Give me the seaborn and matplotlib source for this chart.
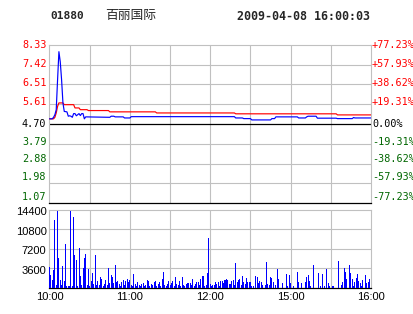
import matplotlib
matplotlib.use("Agg")
import matplotlib.pyplot as plt
import matplotlib.transforms as mtransforms
import numpy as np
import pandas as pd
import seaborn as sns

# ---------------- data ----------------
code = "01880"
name = "百丽国际"
stamp = "2009-04-08 16:00:03"

prev_close = 4.70
price_levels = [1.07, 1.98, 2.88, 3.79, 4.70, 5.61, 6.51, 7.42, 8.33]
price_labels = ["1.07", "1.98", "2.88", "3.79", "4.70", "5.61", "6.51", "7.42", "8.33"]
pct_labels = ["-77.23%", "-57.93%", "-38.62%", "-19.31%", "0.00%",
              "+19.31%", "+38.62%", "+57.93%", "+77.23%"]

vol_ticks = [3600, 7200, 10800, 14400]
vol_labels = ["3600", "7200", "10800", "14400"]

time_ticks = [0, 60, 120, 180, 240]
time_labels = ["10:00", "11:00", "12:00", "15:00", "16:00"]
grid_minutes = [0, 30, 60, 90, 120, 150, 180, 210, 240]

# price (blue) breakpoints: minute of session, price
price_min = [0, 2, 3, 4, 5, 6, 7, 8, 9, 10, 11, 13, 14, 15, 16, 17, 18, 19, 20, 21,
             22, 23, 24, 25, 26, 27, 45, 46, 48, 49, 55, 56, 60, 61, 138, 139, 144,
             145, 150, 151, 165, 166, 168, 169, 185, 186, 191, 192, 193, 199, 200,
             214, 215, 226, 227, 228, 240]
price_val = [4.93, 4.93, 5.00, 5.12, 5.35, 6.72, 8.01, 7.55, 6.72, 5.66, 5.27, 5.25,
             5.05, 5.07, 5.05, 5.00, 5.17, 5.17, 5.07, 5.12, 5.17, 5.08, 5.17, 5.17,
             4.93, 5.02, 5.00, 5.05, 5.05, 5.02, 5.02, 4.97, 4.97, 5.03, 5.03, 4.97,
             4.97, 4.94, 4.94, 4.88, 4.88, 4.94, 4.94, 5.02, 5.02, 4.97, 4.97, 5.02,
             5.05, 5.05, 4.96, 4.96, 4.94, 4.94, 4.99, 4.97, 4.97]

# average price (red) breakpoints
avg_min = [0, 3, 4, 5, 6, 7, 10, 11, 18, 19, 22, 23, 28, 29, 44, 45, 79, 80, 138,
           139, 214, 215, 240]
avg_val = [4.93, 4.93, 5.00, 5.20, 5.50, 5.66, 5.66, 5.58, 5.58, 5.43, 5.43, 5.35,
           5.35, 5.31, 5.31, 5.25, 5.25, 5.20, 5.20, 5.16, 5.16, 5.11, 5.11]

# volume per minute (240 minutes)
volume = [
    3900, 2400, 1500, 3300, 12550, 600, 14200, 5600, 1500, 550,
    4060, 1200, 8100, 430, 430, 430, 14200, 430, 13050, 6100,
    5170, 430, 7440, 2200, 550, 3750, 5480, 6200, 550, 3500,
    430, 1290, 2700, 800, 6100, 550, 1200, 550, 2090, 1660,
    430, 800, 1500, 550, 3750, 920, 2400, 2090, 920, 4250,
    1100, 1290, 800, 430, 1100, 1470, 550, 1290, 1660, 1100,
    1480, 550, 430, 2590, 740, 430, 1050, 550, 300, 740,
    980, 430, 550, 1480, 1290, 430, 740, 550, 1050, 1350,
    300, 740, 1050, 430, 1660, 2890, 550, 430, 740, 1290,
    550, 860, 1290, 430, 1970, 740, 550, 1290, 430, 1970,
    550, 300, 740, 860, 860, 860, 550, 1660, 430, 740,
    1170, 1170, 550, 1660, 2280, 2280, 430, 550, 2710, 9170,
    740, 430, 550, 550, 1050, 740, 1050, 300, 1290, 1290,
    860, 1480, 1660, 1480, 740, 740, 1290, 1480, 550, 4550,
    1050, 1480, 1660, 550, 2280, 1050, 740, 1850, 1050, 1050,
    1050, 430, 430, 0, 2280, 2100, 860, 1290, 1050, 550,
    0, 550, 4730, 740, 550, 2100, 1790, 1050, 0, 550,
    3500, 1660, 0, 0, 830, 0, 0, 2600, 300, 2300,
    860, 0, 300, 0, 0, 3010, 1050, 0, 830, 0,
    0, 1050, 2100, 2300, 1290, 430, 0, 4170, 0, 0,
    0, 2830, 300, 0, 2600, 430, 0, 3500, 860, 430,
    0, 430, 430, 0, 0, 0, 4970, 0, 550, 1170,
    3620, 3010, 1660, 0, 4250, 2710, 1660, 430, 1050, 1850,
    2580, 1290, 860, 430, 1480, 0, 2300, 860, 1170, 1660,
]
vol_minutes = list(range(len(volume)))

# ---------------- style ----------------
sns.set_style("white")
plt.rcParams["font.family"] = ["DejaVu Sans", "Noto Sans CJK SC"]

RED = "#FF0000"
BLUE = "#0000FF"
GREEN = "#006600"
GRID = "#C0C0C0"
MONO = "DejaVu Sans Mono"
SANS = "Liberation Sans"

W, H = 414, 314
fig = plt.figure(figsize=(W / 100, H / 100), dpi=100)
fig.patch.set_facecolor("white")

x0, x1 = 49, 371
ax1 = fig.add_axes([x0 / W, 1 - 203 / H, (x1 - x0) / W, (203 - 44.7) / H])
ax2 = fig.add_axes([x0 / W, 1 - 288 / H, (x1 - x0) / W, (288 - 209.7) / H])

XL = (-0.4, 240)


def px(dx, dy):
    return mtransforms.ScaledTranslation(dx / 100, dy / 100, fig.dpi_scale_trans)


# ---------------- price panel ----------------
ax1.set_xlim(*XL)
ax1.set_ylim(price_levels[0], price_levels[-1])
for lv in price_levels[1:-1]:
    if abs(lv - prev_close) < 1e-9:
        continue
    ax1.axhline(lv, color=GRID, lw=0.8, zorder=0)
for gm in grid_minutes[1:-1]:
    ax1.axvline(gm, color=GRID, lw=0.8, zorder=0)
ax1.axhline(prev_close, color="black", lw=0.9, zorder=1)

df_avg = pd.DataFrame({"m": avg_min, "p": avg_val})
df_px = pd.DataFrame({"m": price_min, "p": price_val})
sns.lineplot(data=df_avg, x="m", y="p", ax=ax1, color=RED, lw=0.85,
             estimator=None, sort=False, zorder=3)
sns.lineplot(data=df_px, x="m", y="p", ax=ax1, color=BLUE, lw=0.85,
             estimator=None, sort=False, zorder=4)

ax1.set_xticks([])
ax1.set_yticks([])
ax1.set_xlabel("")
ax1.set_ylabel("")
for s in ["top", "left", "right"]:
    ax1.spines[s].set_color(GRID)
    ax1.spines[s].set_linewidth(0.8)
ax1.spines["bottom"].set_color("black")
ax1.spines["bottom"].set_linewidth(0.9)

label_shift = [6, 6, 4.5, 2, 0, 2, 1.5, 0.5, 0]
ytr = ax1.get_yaxis_transform()
for lv, lab, pct, sh in zip(price_levels, price_labels, pct_labels, label_shift):
    if lv > prev_close + 1e-9:
        col = RED
    elif lv < prev_close - 1e-9:
        col = GREEN
    else:
        col = "black"
    ax1.text(0, lv, lab, transform=ytr + px(-2.5, sh), ha="right", va="center",
             fontsize=7.3, family=MONO, color=col, clip_on=False)
    ax1.text(1, lv, pct, transform=ytr + px(1, sh), ha="left", va="center",
             fontsize=7.3, family=MONO, color=col, clip_on=False)

# ---------------- volume panel ----------------
df_vol = pd.DataFrame({"m": vol_minutes, "v": volume})
sns.barplot(data=df_vol, x="m", y="v", ax=ax2, native_scale=True, color=BLUE,
            saturation=1, width=0.75, linewidth=0, errorbar=None,
            antialiased=False, zorder=3)
ax2.set_xlim(*XL)
ax2.set_ylim(0, vol_ticks[-1])
for vt in vol_ticks[:-1]:
    ax2.axhline(vt, color=GRID, lw=0.8, zorder=0)
for gm in grid_minutes[1:-1]:
    ax2.axvline(gm, color=GRID, lw=0.8, zorder=0)
ax2.set_xticks([])
ax2.set_yticks([])
ax2.set_xlabel("")
ax2.set_ylabel("")
for s in ["top", "left", "right"]:
    ax2.spines[s].set_color(GRID)
    ax2.spines[s].set_linewidth(0.8)
ax2.spines["bottom"].set_color("black")
ax2.spines["bottom"].set_linewidth(0.9)

ytr2 = ax2.get_yaxis_transform()
for vt, lab in zip(vol_ticks, vol_labels):
    ax2.text(0, vt, lab, transform=ytr2 + px(-2.5, -2.5), ha="right", va="center",
             fontsize=8, family=SANS, color="black", clip_on=False)

xtr2 = ax2.get_xaxis_transform()
for tt, lab in zip(time_ticks, time_labels):
    ax2.text(tt, 0, lab, transform=xtr2 + px(0, -9), ha="center", va="center",
             fontsize=8, family=SANS, color="black", clip_on=False)

# ---------------- header ----------------
fig.text(50 / W, 1 - 16 / H, code, family=MONO, fontweight="bold", fontsize=8.1,
         ha="left", va="center")
fig.text(105 / W, 1 - 16 / H, name, family=["Noto Sans CJK SC", "DejaVu Sans"],
         fontsize=9.2, ha="left", va="center")
fig.text(237 / W, 1 - 16 / H, stamp, family=MONO, fontweight="bold", fontsize=8.4,
         ha="left", va="center")

fig.savefig("out.png", dpi=100, facecolor="white")
